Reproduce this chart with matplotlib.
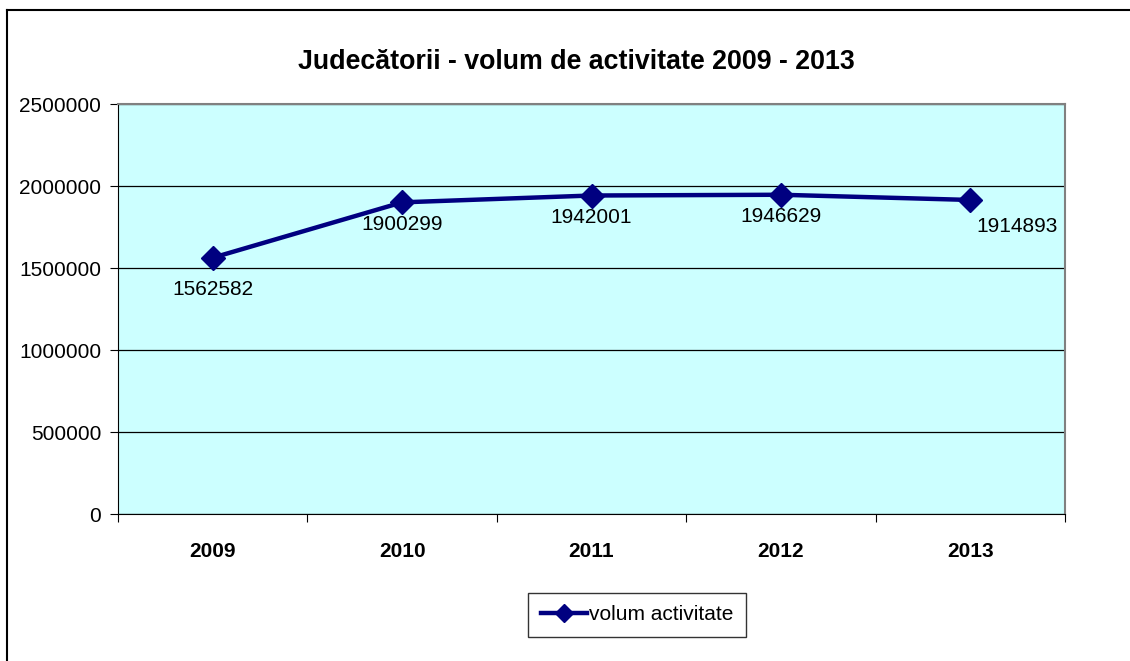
import matplotlib
matplotlib.use('Agg')
import matplotlib.pyplot as plt
import numpy as np

years = ['2009', '2010', '2011', '2012', '2013']
volum = [1562582, 1900299, 1942001, 1946629, 1914893]
y_ticks = [0, 500000, 1000000, 1500000, 2000000, 2500000]

plt.rcParams['font.family'] = ['Liberation Sans', 'DejaVu Sans']

fig = plt.figure(figsize=(11.3, 6.61), dpi=100)
W, H = 1130, 661
# plot area in pixels: x 118..1065, y 104..514
ax = fig.add_axes([118 / W, 1 - 514 / H, (1065 - 118) / W, (514 - 104) / H])
ax.set_facecolor('#CCFFFF')

x = np.arange(len(years))
ax.plot(x, volum, color='#000080', linewidth=3.2, marker='D', markersize=12,
        label='volum activitate', zorder=3)

# data labels (Excel-like placement)
offsets = [(0, -23), (0, -16), (0, -16), (0, -16), (34, -19)]
for xi, v, off in zip(x, volum, offsets):
    ax.annotate(str(v), (xi, v), xytext=off, textcoords='offset points',
                ha='center', va='center', fontsize=15, color='black')

ax.set_xlim(-0.5, len(years) - 0.5)
ax.set_ylim(0, 2500000)
ax.set_yticks(y_ticks)
ax.set_yticklabels([str(t) for t in y_ticks], fontsize=15)
ax.yaxis.grid(True, color='black', linewidth=0.9)
ax.set_axisbelow(True)

ax.set_xticks(np.arange(-0.5, len(years) + 0.5, 1))
ax.set_xticklabels([])
ax.set_xticks(x, minor=True)
ax.set_xticklabels(years, minor=True, fontsize=15, fontweight='bold')
ax.tick_params(axis='x', which='minor', length=0, pad=20)
ax.tick_params(axis='x', which='major', length=6, direction='out', color='black')
ax.tick_params(axis='y', length=6, direction='out', color='black', pad=6)

for s in ['top', 'right']:
    ax.spines[s].set_color('#808080')
    ax.spines[s].set_linewidth(1.5)
ax.spines['left'].set_color('black')
ax.spines['bottom'].set_color('black')

fig.text(576 / W, 1 - 62 / H, 'Judecătorii - volum de activitate 2009 - 2013',
         ha='center', va='center', fontsize=19.3, fontweight='bold')

leg = ax.legend(loc='center', bbox_to_anchor=(637 / W, 1 - 615 / H),
                bbox_transform=fig.transFigure, fontsize=15, frameon=True,
                fancybox=False, edgecolor='black', handlelength=2.2,
                handletextpad=0.1, borderpad=0.6, markerscale=0.8)
leg.get_frame().set_linewidth(1.0)

# outer chart border (left and top visible)
fig.add_artist(plt.Line2D([7 / W, 7 / W], [0, 1 - 10 / H], color='black', linewidth=1.5,
                          transform=fig.transFigure))
fig.add_artist(plt.Line2D([7 / W, 1], [1 - 10 / H, 1 - 10 / H], color='black', linewidth=1.5,
                          transform=fig.transFigure))

fig.savefig('out.png', dpi=100, facecolor='white')
